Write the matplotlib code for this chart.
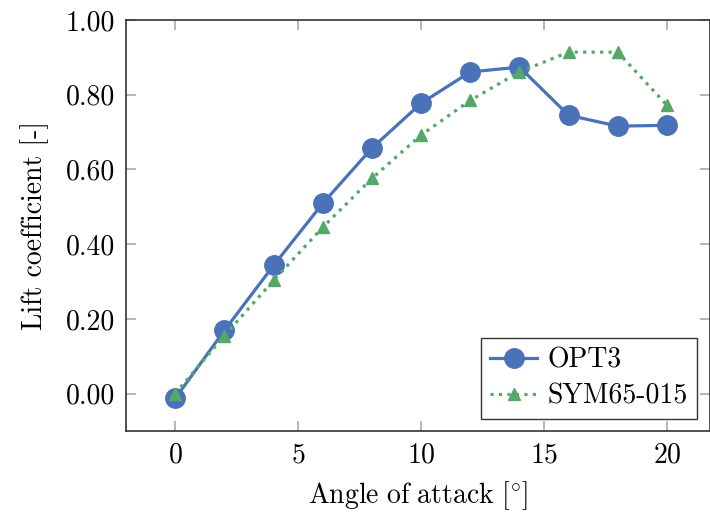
import matplotlib
matplotlib.use("Agg")
import matplotlib.pyplot as plt
from matplotlib.ticker import FormatStrFormatter

angles = [0, 2, 4, 6, 8, 10, 12, 14, 16, 18, 20]
opt3 = [-0.013, 0.169, 0.343, 0.509, 0.657, 0.777, 0.861, 0.874, 0.745, 0.716, 0.718]
sym65 = [0.0, 0.155, 0.303, 0.445, 0.576, 0.692, 0.785, 0.861, 0.914, 0.914, 0.772]
xticks = [0, 5, 10, 15, 20]
yticks = [0.0, 0.2, 0.4, 0.6, 0.8, 1.0]

plt.rcParams['font.family'] = ['cmr10', 'DejaVu Sans']
plt.rcParams['mathtext.fontset'] = 'cm'
plt.rcParams['axes.formatter.use_mathtext'] = True

fig = plt.figure(figsize=(7.1, 5.16), dpi=100)
ax = fig.add_axes([126/710, 1-431/516, 1-126/710, (431-20)/516])

blue = '#4a72b8'
green = '#55a868'
ax.plot(angles, opt3, '-o', color=blue, lw=2.3, markersize=14, label='OPT3', zorder=3)
ax.plot(angles, sym65, ':^', color=green, lw=2.3, markersize=8.5, label='SYM65-015', zorder=4)

ax.set_xlim(-2, 21.75)
ax.set_ylim(-0.1, 1.0)
ax.set_xticks(xticks)
ax.set_yticks(yticks)
ax.yaxis.set_major_formatter(FormatStrFormatter('%.2f'))
ax.tick_params(direction='in', length=7, width=1.2, color='#aaaaaa', labelsize=20,
               top=True, right=True, pad=8)
for s in ax.spines.values():
    s.set_color('#333333')
    s.set_linewidth(1.2)

ax.set_xlabel(r'$\mathrm{Angle\ of\ attack\ [^{\circ}]}$', fontsize=20, labelpad=8)
ax.set_ylabel('Lift coefficient [-]', fontsize=20, labelpad=12)

leg = ax.legend(loc='lower right', fontsize=20, frameon=True, fancybox=False,
                edgecolor='#333333', framealpha=1, borderpad=0.35, handlelength=1.7,
                handletextpad=0.35, labelspacing=0.35, borderaxespad=0.0,
                bbox_to_anchor=(0.978, 0.028))
leg.get_frame().set_linewidth(1.0)

fig.savefig('out.png', dpi=100)
